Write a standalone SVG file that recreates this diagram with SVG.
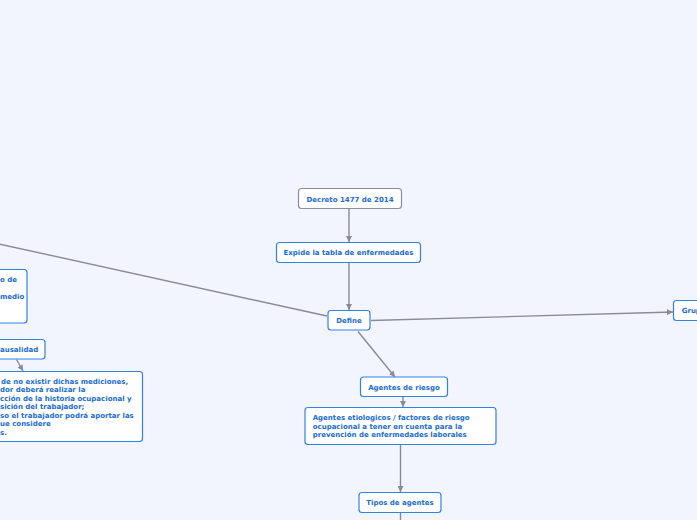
<svg xmlns="http://www.w3.org/2000/svg" width="697" height="520" viewBox="0 0 697 520">
<defs>
<marker id="ah" viewBox="0 0 10 10" refX="10" refY="5" markerWidth="6" markerHeight="6" markerUnits="userSpaceOnUse" orient="auto">
<path d="M0,0 L10,5 L0,10 z" fill="#8a8a96"/>
</marker>
<style>
.n{fill:#ffffff;stroke:#2f83e4;stroke-width:1.2}
.g{fill:#ffffff;stroke:#8c8c9c;stroke-width:1.2}
.t{font-family:"DejaVu Sans",Verdana,sans-serif;font-weight:bold;font-size:7px;fill:#1a6ccf}
.c{text-anchor:middle}
.l{fill:none;stroke:#8a8a96;stroke-width:1.4}
</style>
</defs>
<rect width="697" height="520" fill="#f2f5fd"/>
<g id="connectors">
<line class="l" x1="349" y1="209" x2="349" y2="242" marker-end="url(#ah)"/>
<line class="l" x1="349" y1="262.5" x2="349" y2="310" marker-end="url(#ah)"/>
<line class="l" x1="358" y1="331.5" x2="395" y2="377" marker-end="url(#ah)"/>
<line class="l" x1="403" y1="397" x2="403" y2="407" marker-end="url(#ah)"/>
<line class="l" x1="400.5" y1="444.5" x2="400.5" y2="492" marker-end="url(#ah)"/>
<line class="l" x1="400.5" y1="512.5" x2="400.5" y2="520"/>
<line class="l" x1="371" y1="320.5" x2="673" y2="312" marker-end="url(#ah)"/>
<line class="l" x1="327" y1="316" x2="-10" y2="242"/>
<line class="l" x1="16.5" y1="359.5" x2="23" y2="371" marker-end="url(#ah)"/>
</g>
<g id="decreto">
<rect class="g" x="298.5" y="188.5" width="103" height="20" rx="3"/>
<text class="t c" x="350" y="202">Decreto 1477 de 2014</text>
</g>
<g id="expide">
<rect class="n" x="276.5" y="242.5" width="144" height="20" rx="3"/>
<text class="t c" x="348.5" y="254.5">Expide la tabla de enfermedades</text>
</g>
<g id="define">
<rect class="n" x="328" y="310.5" width="42" height="19.5" rx="3"/>
<text class="t c" x="349" y="323">Define</text>
</g>
<g id="agentes-riesgo">
<rect class="n" x="360.5" y="377" width="87" height="19.5" rx="3"/>
<text class="t c" x="404" y="390">Agentes de riesgo</text>
</g>
<g id="agentes-etiologicos">
<rect class="n" x="305" y="407.5" width="191" height="37" rx="3"/>
<text class="t" x="312.7" y="420">Agentes etiologicos / factores de riesgo</text>
<text class="t" x="312.7" y="428.8">ocupacional a tener en cuenta para la</text>
<text class="t" x="312.7" y="437">prevención de enfermedades laborales</text>
</g>
<g id="tipos">
<rect class="n" x="359" y="492.5" width="82" height="20" rx="3"/>
<text class="t c" x="400" y="505">Tipos de agentes</text>
</g>
<g id="grup">
<rect class="n" x="673.5" y="300.5" width="40" height="20" rx="3"/>
<text class="t" x="681.7" y="313">Grup</text>
</g>
<g id="left-top">
<rect class="n" x="-40" y="269.5" width="67" height="53.5" rx="3"/>
<text class="t" x="0" y="282">o de</text>
<text class="t" x="0" y="299">medio</text>
</g>
<g id="causalidad">
<rect class="n" x="-40" y="339.5" width="85" height="19.5" rx="3"/>
<text class="t" x="0" y="351.5">ausalidad</text>
</g>
<g id="left-big">
<rect class="n" x="-40" y="371.5" width="182.5" height="70" rx="3"/>
<text class="t" x="1" y="384">de no existir dichas mediciones,</text>
<text class="t" x="0" y="392">dor deberá realizar la</text>
<text class="t" x="0" y="400.5">cción de la historia ocupacional y</text>
<text class="t" x="0" y="409">sición del trabajador;</text>
<text class="t" x="0" y="417.5">so el trabajador podrá aportar las</text>
<text class="t" x="0" y="426">ue considere</text>
<text class="t" x="0" y="435">s.</text>
</g>
</svg>
